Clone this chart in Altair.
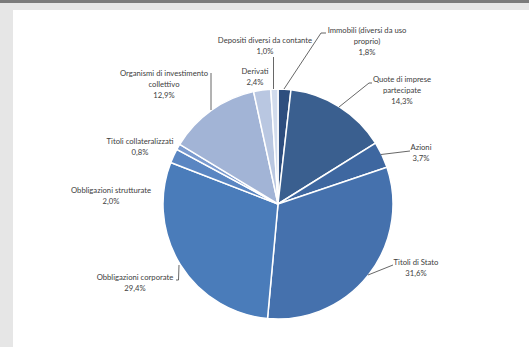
import altair as alt
import pandas as pd

# ---- data ----
names = [
    "Immobili (diversi da uso proprio)",
    "Quote di imprese partecipate",
    "Azioni",
    "Titoli di Stato",
    "Obbligazioni corporate",
    "Obbligazioni strutturate",
    "Titoli collateralizzati",
    "Organismi di investimento collettivo",
    "Derivati",
    "Depositi diversi da contante",
]
values = [1.8, 14.3, 3.7, 31.6, 29.4, 2.0, 0.8, 12.9, 2.4, 1.0]
colors = ["#2e4e7e", "#3a5f8f", "#3e67a0", "#4571ad", "#4a7cba",
          "#5a86c2", "#7b9bcf", "#a2b4d6", "#b9c7e1", "#d1dbec"]
label_names = [
    ["Immobili (diversi da uso", "proprio)"],
    ["Quote di imprese", "partecipate"],
    ["Azioni"],
    ["Titoli di Stato"],
    ["Obbligazioni corporate"],
    ["Obbligazioni strutturate"],
    ["Titoli collateralizzati"],
    ["Organismi di investimento", "collettivo"],
    ["Derivati"],
    ["Depositi diversi da contante"],
]

# ---- layout ----
W, H = 529, 347
CX, CY, R = 278, 204, 115
LINE = 11
label_pos = [  # (x centre, y of first line)
    (367, 30.5), (402, 80), (421, 148), (416, 263), (135, 277.5),
    (111, 191), (140, 141.5), (164, 74), (255, 71.5), (265, 41),
]
# leader line segments: (x, y, x2, y2)
leaders = [
    (284, 89, 321, 33), (321, 33, 326, 33),
    (339, 107, 369, 83), (369, 83, 372, 83),
    (381, 154.5, 410, 151),
    (368, 275, 393, 265),
    (179, 265, 178.5, 280), (178.5, 280, 176, 280),
    (211, 110, 211, 73),
    (273.5, 89, 273.5, 57),
]

df = pd.DataFrame({"name": names, "value": values, "idx": list(range(len(names)))})

rows = []
for i, (lines, v) in enumerate(zip(label_names, values)):
    x0, y0 = label_pos[i]
    all_lines = lines + [f"{v:.1f}".replace(".", ",") + "%"]
    for k, t in enumerate(all_lines):
        rows.append({"text": t, "x": x0, "y": y0 + k * LINE})
labels_df = pd.DataFrame(rows)
lead_df = pd.DataFrame(leaders, columns=["x", "y", "x2", "y2"])

one = pd.DataFrame({"a": [0]})
bg_top = alt.Chart(one).mark_rect(color="#7b7b7b").encode(
    x=alt.value(0), x2=alt.value(W), y=alt.value(0), y2=alt.value(3))
panel = alt.Chart(one).mark_rect(color="white").encode(
    x=alt.value(13), x2=alt.value(W), y=alt.value(10), y2=alt.value(H))

pie = alt.Chart(df).mark_arc(outerRadius=R, stroke="white", strokeWidth=1.5).encode(
    theta=alt.Theta("value:Q", stack=True),
    color=alt.Color("name:N", scale=alt.Scale(domain=names, range=colors), legend=None),
    order=alt.Order("idx:Q"),
    x=alt.value(CX), y=alt.value(CY),
)

rules = alt.Chart(lead_df).mark_rule(color="#404040", strokeWidth=0.8).encode(
    x=alt.X("x:Q", scale=None, axis=None),
    y=alt.Y("y:Q", scale=None, axis=None),
    x2="x2:Q", y2="y2:Q",
)

texts = alt.Chart(labels_df).mark_text(
    font="Lato", fontSize=7.7, color="#404040",
    align="center", baseline="middle"
).encode(
    x=alt.X("x:Q", scale=None, axis=None),
    y=alt.Y("y:Q", scale=None, axis=None),
    text="text:N",
)

chart = alt.layer(bg_top, panel, pie, rules, texts).properties(
    width=W, height=H, autosize=alt.AutoSizeParams(type="none"), padding=0,
    background="#e6e6e6",
).configure_view(stroke=None)

chart.save("out.html", embed_options={"renderer": "svg", "actions": False})
